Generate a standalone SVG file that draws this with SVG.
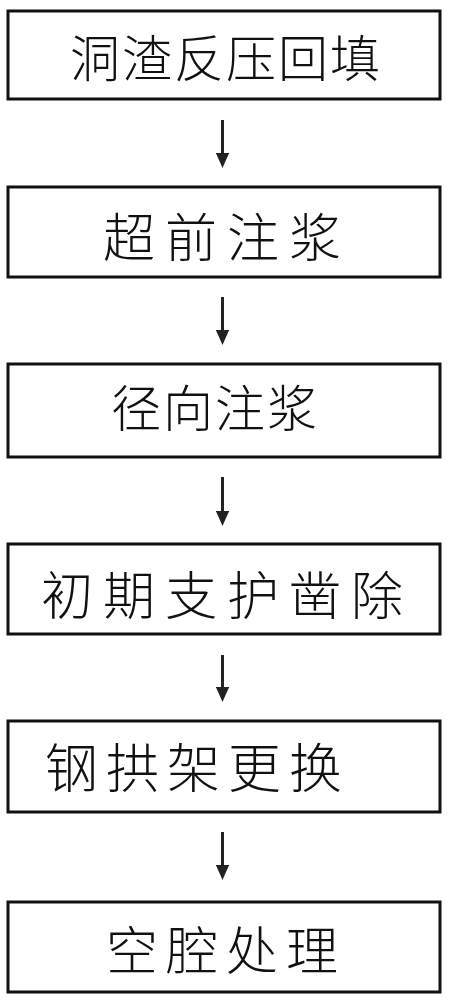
<svg xmlns="http://www.w3.org/2000/svg" width="449" height="1000" viewBox="0 0 449 1000">
<style>
.box{fill:#fff;stroke:#111;stroke-width:3}
.t{font-family:"Noto Sans CJK SC","Noto Sans CJK JP",sans-serif;font-weight:300;fill:#111}
.c{stroke:#222;stroke-width:3;fill:none}
</style>
<defs>
<marker id="ah" markerWidth="5" markerHeight="4.4" refX="0" refY="2.2" orient="auto" markerUnits="strokeWidth">
<path d="M0,0 L5,2.2 L0,4.4 Z" fill="#222"/>
</marker>
</defs>
<rect width="449" height="1000" fill="#fff"/>
<g id="n1"><rect class="box" x="8" y="11" width="432" height="88"/><text class="t" x="70" y="77" font-size="50" letter-spacing="2">洞渣反压回填</text></g>
<g id="n2"><rect class="box" x="8" y="187" width="432" height="90"/><text class="t" x="103" y="257" font-size="52" letter-spacing="10">超前注浆</text></g>
<g id="n3"><rect class="box" x="8" y="364" width="432" height="93"/><text class="t" x="111" y="427" font-size="50" letter-spacing="2">径向注浆</text></g>
<g id="n4"><rect class="box" x="8" y="544" width="432" height="90"/><text class="t" x="41" y="615" font-size="52" letter-spacing="10">初期支护凿除</text></g>
<g id="n5"><rect class="box" x="8" y="721" width="432" height="91"/><text class="t" x="45" y="788" font-size="53" letter-spacing="8">钢拱架更换</text></g>
<g id="n6"><rect class="box" x="8" y="902" width="432" height="90"/><text class="t" x="106" y="970" font-size="52" letter-spacing="8">空腔处理</text></g>
<g id="connectors">
<line class="c" x1="222.5" y1="120" x2="222.5" y2="153" marker-end="url(#ah)"/>
<line class="c" x1="222.5" y1="297" x2="222.5" y2="330" marker-end="url(#ah)"/>
<line class="c" x1="222.5" y1="477" x2="222.5" y2="511" marker-end="url(#ah)"/>
<line class="c" x1="222.5" y1="655" x2="222.5" y2="687" marker-end="url(#ah)"/>
<line class="c" x1="222.5" y1="832" x2="222.5" y2="865" marker-end="url(#ah)"/>
</g>
</svg>
